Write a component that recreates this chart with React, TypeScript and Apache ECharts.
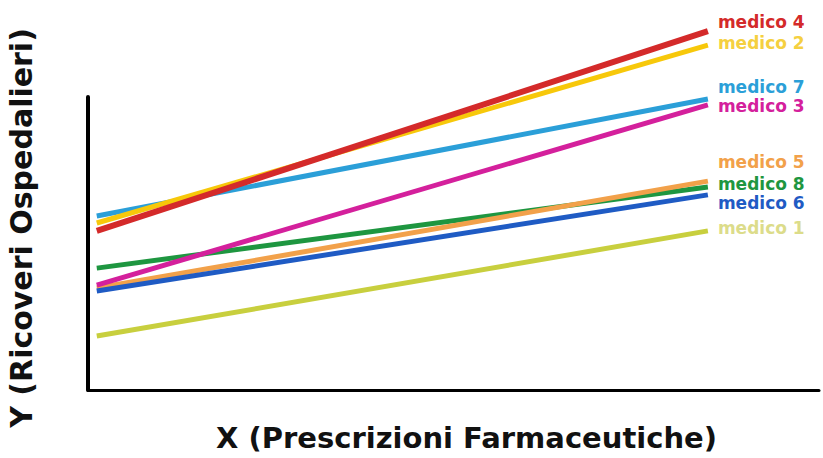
import React, { useEffect, useRef } from "react";
import * as echarts from "echarts";

const names = ["medico 1", "medico 8", "medico 5", "medico 6", "medico 3", "medico 7", "medico 2", "medico 4"];
const xStart = [1.2, 1.2, 1.2, 1.2, 1.2, 1.2, 1.2, 1.2];
const xEnd = [84.8, 84.8, 84.8, 84.8, 84.8, 84.8, 84.8, 84.8];
const yStart = [18.4, 41.6, 34.8, 33.8, 35.8, 59.4, 57.0, 54.3];
const yEnd = [54.3, 69.3, 71.3, 66.6, 97.3, 99.3, 117.7, 122.5];
const colors = ["#c8cf3e", "#1e9640", "#f2a14a", "#1f5bc4", "#d4209c", "#2b9fd8", "#f7c80a", "#d42a2a"];
const labelColors = ["#dcdc8a", "#1e9640", "#f2a14a", "#1f5bc4", "#d4209c", "#2b9fd8", "#f5d040", "#d42a2a"];
const labelDy = [-3, -3, -19, 8, 1, -12, -2, -9];
const widths = [5, 5, 5, 5, 5, 5, 5, 6];

export default function App() {
  const ref = useRef<HTMLDivElement>(null);
  useEffect(() => {
    if (!ref.current) return;
    const chart = echarts.init(ref.current, null, { renderer: "svg" });
    chart.setOption({
      animation: false,
      backgroundColor: "#ffffff",
      grid: { left: 88, right: 4, top: 97, bottom: 68, outerBoundsMode: "none", containLabel: false },
      xAxis: {
        type: "value",
        min: 0,
        max: 100,
        name: "X (Prescrizioni Farmaceutiche)",
        nameLocation: "middle",
        nameGap: 33,
        nameTextStyle: { fontFamily: "DejaVu Sans", fontWeight: "bold", fontSize: 29, color: "#111", padding: [0, 0, 0, 26] },
        axisLine: { show: true, lineStyle: { color: "#000", width: 3 } },
        axisTick: { show: false },
        axisLabel: { show: false },
        splitLine: { show: false },
      },
      yAxis: {
        type: "value",
        min: 0,
        max: 100,
        name: "Y (Ricoveri Ospedalieri)",
        nameLocation: "middle",
        nameGap: 52,
        nameRotate: 90,
        nameTextStyle: { fontFamily: "DejaVu Sans", fontWeight: "bold", fontSize: 30, color: "#111", padding: [0, 0, 0, 31] },
        axisLine: { show: true, lineStyle: { color: "#000", width: 4 } },
        axisTick: { show: false },
        axisLabel: { show: false },
        splitLine: { show: false },
      },
      series: names.map((n, i) => ({
        type: "line",
        name: n,
        clip: false,
        symbol: "none",
        data: [
          [xStart[i], yStart[i]],
          [xEnd[i], yEnd[i]],
        ],
        lineStyle: { color: colors[i], width: widths[i] },
        itemStyle: { color: colors[i] },
        endLabel: {
          show: true,
          formatter: "{a}",
          color: labelColors[i],
          fontFamily: "DejaVu Sans",
          fontWeight: "bold",
          fontSize: 17,
          offset: [2, labelDy[i]],
        },
      })),
    });
    return () => chart.dispose();
  }, []);
  return (
    <div
      ref={ref}
      style={{ position: "absolute", left: 0, top: 0, width: 823, height: 458 }}
    />
  );
}
